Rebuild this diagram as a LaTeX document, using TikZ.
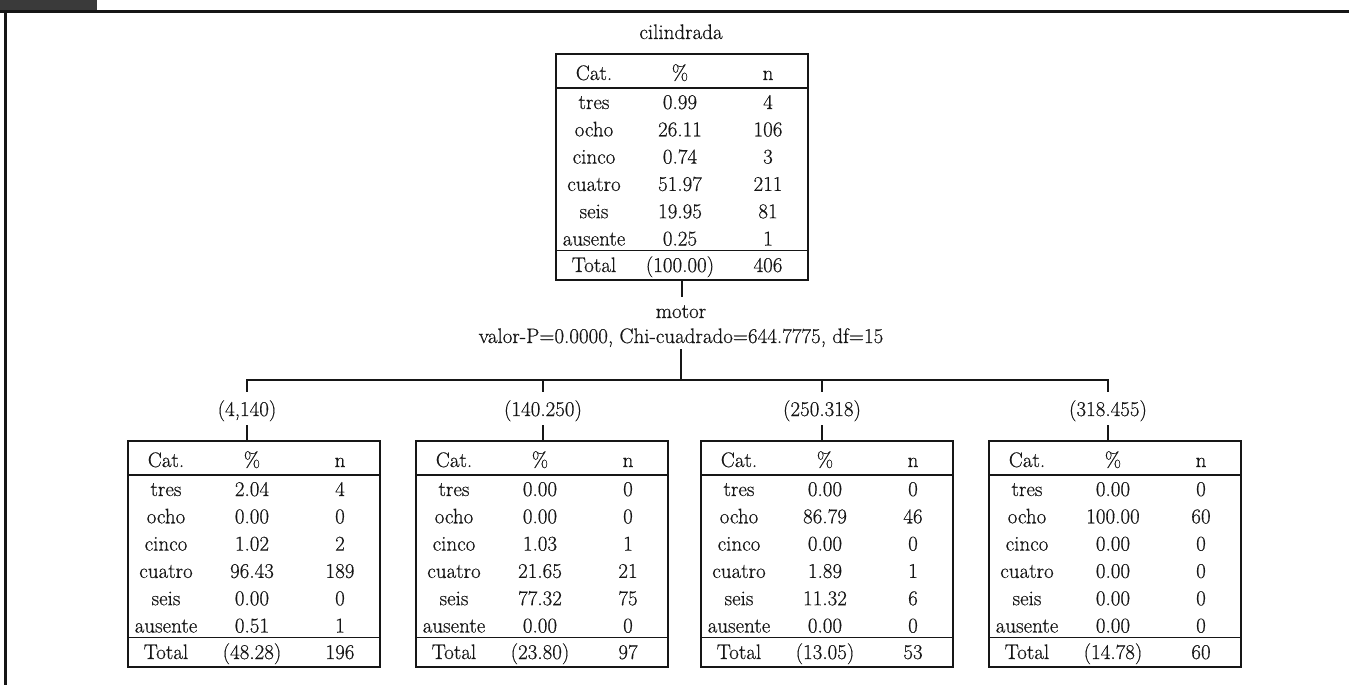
\documentclass[tikz,border=0pt]{standalone}
\usepackage{fontspec}
\newfontfamily\tabfont{Latin Modern Roman}[FakeBold=0.5]
\usetikzlibrary{calc}
\definecolor{ink}{HTML}{161616}
\definecolor{tabgray}{HTML}{3A3A3A}
\tikzset{
  txt/.style={anchor=base, inner sep=0pt, text=ink, font=\tabfont\fontsize{21}{25}\selectfont},
  tbox/.style={draw=ink, line width=2.4pt, inner sep=0pt, anchor=north west,
    minimum width=252pt, minimum height=225.5pt},
  rulerow/.style={draw=ink, line width=1.5pt},
  conn/.style={draw=ink, line width=2.4pt},
  cutlbl/.style={txt, text height=18pt, text depth=3pt, inner ysep=6pt},
  varlbl/.style={txt, text height=14pt, text depth=2pt, inner ysep=7pt},
  statlbl/.style={txt, text height=14pt, text depth=2pt, inner ysep=4pt},
}
% category table: #1 name, #2 left x, #3 top y, #4 rows cat/pct/n, #5 total pct, #6 total n
\newcommand\cattab[6]{%
  \node[tbox] (#1) at (#2,#3) {};
  \draw[rulerow] ($(#1.north west)+(0,35)$) -- ($(#1.north east)+(0,35)$);
  \draw[rulerow] ($(#1.north west)+(0,197.5)$) -- ($(#1.north east)+(0,197.5)$);
  \node[txt] (#1-hc) at (#2+39,#3+27) {Cat.};
  \node[txt] (#1-hp) at (#2+125,#3+27) {\%};
  \node[txt] (#1-hn) at (#2+213,#3+27) {n};
  \foreach \c/\p/\n [count=\i from 0] in {#4} {
    \node[txt] (#1-c\i) at (#2+39,#3+56+27.3*\i) {\c};
    \node[txt] (#1-p\i) at (#2+125,#3+56+27.3*\i) {\p};
    \node[txt] (#1-n\i) at (#2+213,#3+56+27.3*\i) {\n};
  }
  \node[txt] (#1-tc) at (#2+39,#3+219) {Total};
  \node[txt] (#1-tp) at (#2+125,#3+219) {#5};
  \node[txt] (#1-tn) at (#2+213,#3+219) {#6};
}
\begin{document}
\begin{tikzpicture}[x=1pt,y=-1pt]
\useasboundingbox (0,0) rectangle (1349,685);
% page frame with header tab
\fill[tabgray] (0,0) rectangle (97,11);
\draw[ink, line width=2.5pt] (0,11.5) -- (1349,11.5);
\draw[ink, line width=2.5pt] (5.5,11.5) -- (5.5,685);

% root node
\node[txt] (title) at (681,39) {cilindrada};
\cattab{root}{555}{53}{tres/0.99/4, ocho/26.11/106, cinco/0.74/3, cuatro/51.97/211, seis/19.95/81, ausente/0.25/1}{(100.00)}{406}

% split variable
\node[varlbl] (motor) at (681,318) {motor};
\node[statlbl] (stat) at (681,343) {valor-P=0.0000, Chi-cuadrado=644.7775, df=15};
\coordinate (hub) at (681,380);
\draw[conn] (root.south) -- (root.south |- motor.north);
\draw[conn] (stat.south) -- (stat.south |- hub);

% split intervals
\node[cutlbl] (l1) at (247,416) {(4,140)};
\node[cutlbl] (l2) at (543,416) {(140.250)};
\node[cutlbl] (l3) at (822,416) {(250.318)};
\node[cutlbl] (l4) at (1108,416) {(318.455)};
\draw[conn] (l1.north) |- (l4.north |- hub) -- (l4.north);
\draw[conn] (l2.north) -- (l2.north |- hub);
\draw[conn] (l3.north) -- (l3.north |- hub);

% child nodes
\cattab{t1}{127}{440}{tres/2.04/4, ocho/0.00/0, cinco/1.02/2, cuatro/96.43/189, seis/0.00/0, ausente/0.51/1}{(48.28)}{196}
\cattab{t2}{415}{440}{tres/0.00/0, ocho/0.00/0, cinco/1.03/1, cuatro/21.65/21, seis/77.32/75, ausente/0.00/0}{(23.80)}{97}
\cattab{t3}{700}{440}{tres/0.00/0, ocho/86.79/46, cinco/0.00/0, cuatro/1.89/1, seis/11.32/6, ausente/0.00/0}{(13.05)}{53}
\cattab{t4}{988}{440}{tres/0.00/0, ocho/100.00/60, cinco/0.00/0, cuatro/0.00/0, seis/0.00/0, ausente/0.00/0}{(14.78)}{60}

\draw[conn] (l1.south) -- (l1.south |- t1.north);
\draw[conn] (l2.south) -- (l2.south |- t2.north);
\draw[conn] (l3.south) -- (l3.south |- t3.north);
\draw[conn] (l4.south) -- (l4.south |- t4.north);
\end{tikzpicture}
\end{document}
